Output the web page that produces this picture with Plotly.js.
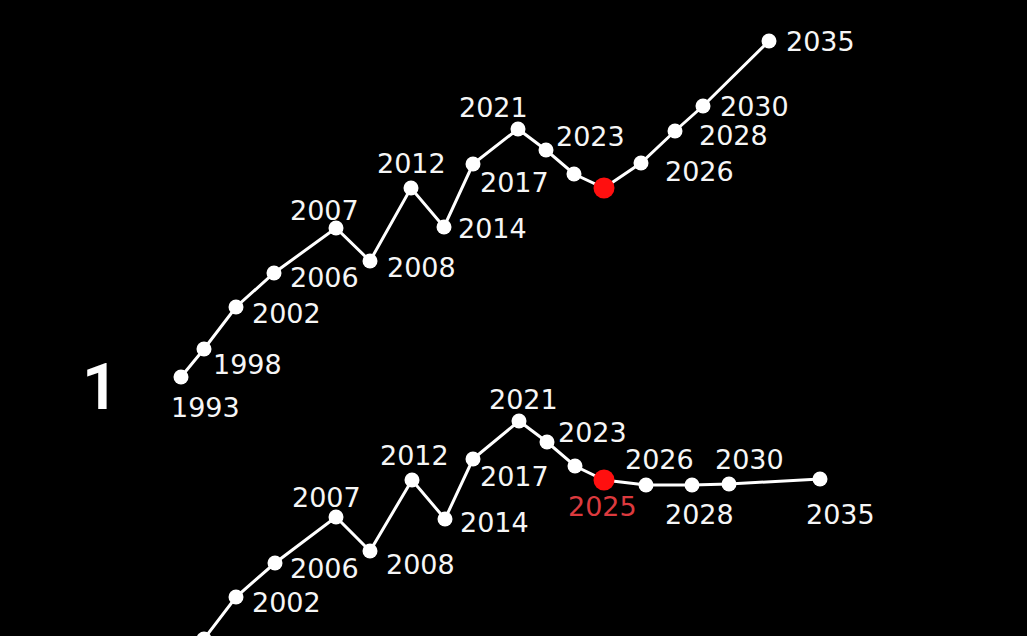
<!DOCTYPE html>
<html>
<head>
<meta charset="utf-8">
<script src="https://cdn.plot.ly/plotly-3.0.1.min.js"></script>
<style>
  html, body { margin: 0; padding: 0; background: #000; }
  #chart { width: 1027px; height: 636px; }
</style>
</head>
<body>
<div id="chart"></div>
<script>
// ---- data ----
const years = ["1993","1998","2002","2006","2007","2008","2012","2014","2017","2021","2023","2024","2025","2026","2028","2030","2035"];
const timelinePos = [181, 204, 236, 274, 336, 370, 411, 444, 473, 518, 546, 574, 604, 641, 675, 703, 769];
const topValues = [259, 287, 329, 363, 408, 375, 448, 409, 472, 507, 486, 462, 448, 473, 505, 530, 595];
const topLabels = ["1993","1998","2002","2006","2007","2008","2012","2014","2017","2021","2023","","","2026","2028","2030","2035"];

const bottomPos = [181, 204, 236, 275, 336, 370, 412, 445, 473, 519, 547, 575, 604, 646, 692, 729, 820];
const bottomValues = [-31, -3, 39, 73, 119, 85, 156, 117, 177, 215, 194, 170, 156, 151, 151, 152, 157];
const bottomLabels = ["","","2002","2006","2007","2008","2012","2014","2017","2021","2023","","2025","2026","2028","2030","2035"];

const currentYear = "2025";
const bigNumber = "1";

// ---- label placement (pixel offsets of label centre from point) ----
const topOffsets = [[24,30],[43,15],[50,6],[50,4],[-12,-18],[51,6],[0,-25],[48,1],[41,18],[-25,-22],[44,-14],[0,0],[0,0],[58,8],[58,4],[51,0],[51,0]];
const bottomOffsets = [[0,0],[0,0],[50,5],[49,5],[-10,-20],[50,13],[2,-25],[49,3],[41,17],[4,-22],[45,-10],[0,0],[-2,26],[13,-26],[7,29],[20,-25],[20,35]];

const WHITE = "#ffffff";
const RED = "#ff0f0f";
const LABEL_RED = "#dc3a3e";

function markerColors() { return years.map(y => y === currentYear ? RED : WHITE); }
function markerSizes() { return years.map(y => y === currentYear ? 21 : 15); }

function lineTrace(xs, ys) {
  return { x: xs, y: ys, mode: "lines+markers", type: "scatter",
    line: { color: WHITE, width: 3 },
    marker: { color: markerColors(), size: markerSizes(), opacity: 1, line: { width: 0 } },
    opacity: 1, hoverinfo: "skip", cliponaxis: true };
}
const traces = [ lineTrace(timelinePos, topValues), lineTrace(bottomPos, bottomValues) ];

const annotations = [];
function addLabels(xs, ys, labels, offsets) {
  labels.forEach((t, i) => {
    if (!t) return;
    annotations.push({
      x: xs[i], y: ys[i], xref: "x", yref: "y",
      text: t, showarrow: false,
      xanchor: "center", yanchor: "middle",
      xshift: offsets[i][0], yshift: -offsets[i][1],
      font: { family: "DejaVu Sans, sans-serif", size: 27, color: t === currentYear ? LABEL_RED : "#f6f6f6" }
    });
  });
}
addLabels(timelinePos, topValues, topLabels, topOffsets);
addLabels(bottomPos, bottomValues, bottomLabels, bottomOffsets);

annotations.push({
  x: 0.098, y: 0.391, xref: "paper", yref: "paper",
  text: bigNumber, showarrow: false, xanchor: "center", yanchor: "middle",
  font: { family: "Roboto, sans-serif", size: 64, color: WHITE, weight: 600 }
});

const layout = {
  width: 1027, height: 636,
  margin: { l: 0, r: 0, t: 0, b: 0 },
  paper_bgcolor: "#000", plot_bgcolor: "#000",
  showlegend: false,
  xaxis: { range: [0, 1027], visible: false, fixedrange: true },
  yaxis: { range: [0, 636], visible: false, fixedrange: true },
  annotations: annotations
};

Plotly.newPlot("chart", traces, layout, { displayModeBar: false, staticPlot: true });
</script>
</body>
</html>
